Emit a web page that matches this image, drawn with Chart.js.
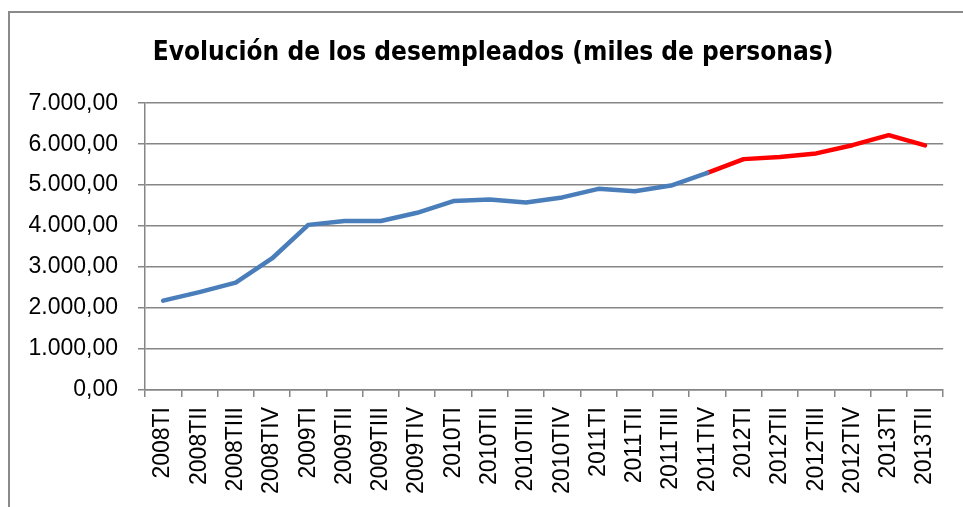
<!DOCTYPE html>
<html>
<head>
<meta charset="utf-8">
<script src="https://cdn.jsdelivr.net/npm/chart.js@4/dist/chart.umd.min.js"></script>
<style>
  body { margin: 0; background: #fff; }
  #wrap { position: relative; width: 963px; height: 507px; }
  #frame { position: absolute; left: 8px; top: 11px; right: -5px; bottom: -5px; border: 2px solid #8a8a8a; }
  canvas { position: absolute; left: 0; top: 0; }
</style>
</head>
<body>
<div id="wrap">
  <div id="frame"></div>
  <canvas id="chart" width="963" height="507"></canvas>
</div>
<script>
// Trimestres
const quarters = ['2008TI', '2008TII', '2008TIII', '2008TIV',
    '2009TI', '2009TII', '2009TIII', '2009TIV',
    '2010TI', '2010TII', '2010TIII', '2010TIV',
    '2011TI', '2011TII', '2011TIII', '2011TIV',
    '2012TI', '2012TII', '2012TIII', '2012TIV',
    '2013TI', '2013TII'];

// Desempleados (miles), tramo azul hasta 2011TIV
const unemployedBefore = [2180, 2390, 2620, 3210, 4030, 4125, 4125, 4325,
    4610, 4650, 4575, 4700, 4910, 4850, 4990, 5300,
    null, null, null, null, null, null];

// Tramo rojo desde 2011TIV
const unemployedAfter = [null, null, null, null, null, null, null, null,
    null, null, null, null, null, null, null, 5300,
    5635, 5685, 5775, 5975, 6220, 5970];

const yTicks = [0, 1000, 2000, 3000, 4000, 5000, 6000, 7000];

// 7000 -> "7.000,00"
function formatNumber(v) {
    const parts = v.toFixed(2).split('.');
    parts[0] = parts[0].replace(/\B(?=(\d{3})+(?!\d))/g, '.');
    return parts[0] + ',' + parts[1];
}

// the title in the original is centred a bit to the right
const shiftTitle = {
    id: 'shiftTitle',
    afterLayout: function (chart) {
        chart.titleBlock.left = 40;
    }
};

const ctx = document.getElementById('chart').getContext('2d');
new Chart(ctx, {
    type: 'line',
    data: {
        labels: quarters,
        datasets: [{
            data: unemployedBefore,
            borderColor: '#4a7ebb',
            borderWidth: 4.5,
            pointRadius: 0,
            borderCapStyle: 'round',
            borderJoinStyle: 'round',
            tension: 0
        }, {
            data: unemployedAfter,
            borderColor: '#ff0000',
            borderWidth: 4.5,
            pointRadius: 0,
            borderCapStyle: 'round',
            borderJoinStyle: 'round',
            tension: 0
        }]
    },
    options: {
        responsive: false,
        animation: false,
        layout: { padding: { left: 0, right: 17, top: 0, bottom: 0 } },
        plugins: {
            legend: { display: false },
            tooltip: { enabled: false },
            title: {
                display: true,
                text: 'Evolución de los desempleados (miles de personas)',
                color: '#000',
                font: { family: '"DejaVu Sans Condensed", "Liberation Sans", sans-serif', size: 26, weight: 'bold', lineHeight: 1.2 },
                padding: { top: 38, bottom: 34 }
            }
        },
        scales: {
            x: {
                offset: true,
                grid: { offset: true, drawOnChartArea: false, drawTicks: true, tickLength: 7, color: '#868686', lineWidth: 1.5 },
                border: { color: '#868686', width: 1.5 },
                ticks: {
                    color: '#000',
                    minRotation: 90,
                    maxRotation: 90,
                    autoSkip: false,
                    padding: 10,
                    font: { family: '"Liberation Sans", sans-serif', size: 23 }
                },
                afterFit: function (scale) { scale.height = 117; }
            },
            y: {
                min: 0,
                max: 7000,
                afterBuildTicks: function (scale) {
                    scale.ticks = yTicks.map(function (v) { return { value: v }; });
                },
                grid: { color: '#868686', lineWidth: 1.5, tickLength: 7 },
                border: { color: '#868686', width: 1.5 },
                ticks: {
                    color: '#000',
                    padding: 20,
                    font: { family: '"Liberation Sans", sans-serif', size: 23 },
                    callback: function (v) { return formatNumber(v); }
                },
                afterFit: function (scale) { scale.width = 145; }
            }
        }
    },
    plugins: [shiftTitle]
});
</script>
</body>
</html>
